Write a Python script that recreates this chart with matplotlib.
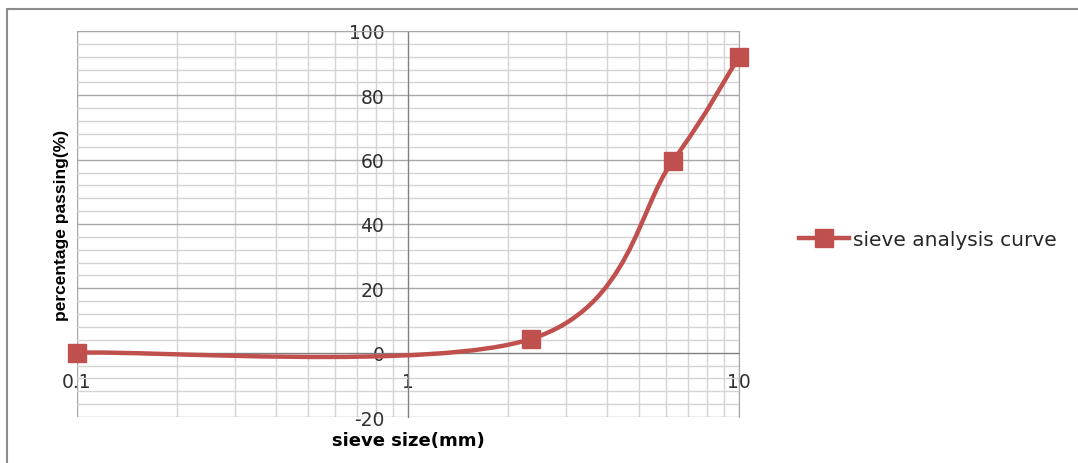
import numpy as np
import matplotlib
matplotlib.use("Agg")
import matplotlib.pyplot as plt
from matplotlib.path import Path
from matplotlib.patches import PathPatch, Rectangle
from matplotlib.ticker import MultipleLocator, LogLocator, FixedLocator, NullFormatter

plt.rcParams["axes.unicode_minus"] = False

# sieve analysis data
sieve_size = [0.1, 2.36, 6.3, 10.0]
passing = [0.0, 4.3, 59.5, 92.0]
x_ticks = [0.1, 1, 10]
x_tick_labels = ["0.1", "1", "10"]
y_ticks = [-20, 0, 20, 40, 60, 80, 100]

red = "#c0504d"

fig = plt.figure(figsize=(10.78, 4.64), dpi=100)
fig.patches.append(Rectangle((7 / 1078, -0.05), 1.1, 1.05 - 10 / 464, transform=fig.transFigure,
                             fill=False, edgecolor="#8c8c8c", linewidth=1.5))
ax = fig.add_axes([0.0714, 0.0991, 0.6141, 0.832])
ax.set_xscale("log")
ax.set_xlim(0.1, 10)
ax.set_ylim(-20, 100)

ax.xaxis.set_major_locator(FixedLocator(x_ticks))
ax.set_xticklabels(x_tick_labels)
ax.xaxis.set_minor_locator(LogLocator(base=10, subs=np.arange(2, 10)))
ax.xaxis.set_minor_formatter(NullFormatter())
ax.yaxis.set_major_locator(FixedLocator(y_ticks))
ax.yaxis.set_minor_locator(MultipleLocator(4))

ax.grid(which="major", color="#a6a6a6", linewidth=1.0)
ax.grid(which="minor", color="#d4d4d4", linewidth=1.0)
ax.set_axisbelow(True)

ax.spines["left"].set_position(("data", 1))
ax.spines["bottom"].set_position(("data", 0))
for s in ["left", "bottom"]:
    ax.spines[s].set_color("#7f7f7f")
for s in ["top", "right"]:
    ax.spines[s].set_color("#a6a6a6")
ax.tick_params(which="both", length=0)
ax.tick_params(axis="x", pad=14, labelsize=13.5, labelcolor="#303030")
ax.tick_params(axis="y", pad=17, labelsize=13.5, labelcolor="#303030")

# smoothed line (Catmull-Rom style bezier in display space, like Excel)
fig.canvas.draw()
pts = ax.transData.transform(np.column_stack([sieve_size, passing]))
n = len(pts)
verts = [pts[0]]
codes = [Path.MOVETO]
for i in range(n - 1):
    p0 = pts[i - 1] if i > 0 else pts[i]
    p1 = pts[i]
    p2 = pts[i + 1]
    p3 = pts[i + 2] if i + 2 < n else pts[i + 1]
    c1 = p1 + (p2 - p0) / 6.0
    c2 = p2 - (p3 - p1) / 6.0
    verts += [c1, c2, p2]
    codes += [Path.CURVE4] * 3
verts = ax.transData.inverted().transform(np.array(verts))
patch = PathPatch(Path(verts, codes), facecolor="none", edgecolor=red, linewidth=3.2,
                  transform=ax.transData, zorder=3, clip_on=False)
ax.add_patch(patch)
ax.plot(sieve_size, passing, linestyle="none", marker="s", markersize=13,
        color=red, zorder=4, clip_on=False)

# legend proxy
handle, = ax.plot([], [], color=red, linewidth=3.2, marker="s", markersize=13)
fig.legend([handle], ["sieve analysis curve"], loc="center left",
           bbox_to_anchor=(0.724, 0.482), frameon=False, handlelength=2.5,
           handletextpad=0.2, prop={"family": "DejaVu Sans", "size": 14.5},
           labelcolor="#262626")

ax.set_ylabel("percentage passing(%)", fontsize=12.5, fontweight="bold",
              family=["Liberation Sans", "DejaVu Sans"])
ax.yaxis.set_label_coords(-0.012, 0.5)
ax.set_xlabel("sieve size(mm)", fontsize=13, fontweight="bold",
              family="DejaVu Sans")
ax.xaxis.set_label_coords(0.5, -0.036)

fig.savefig("out.png", dpi=100)
